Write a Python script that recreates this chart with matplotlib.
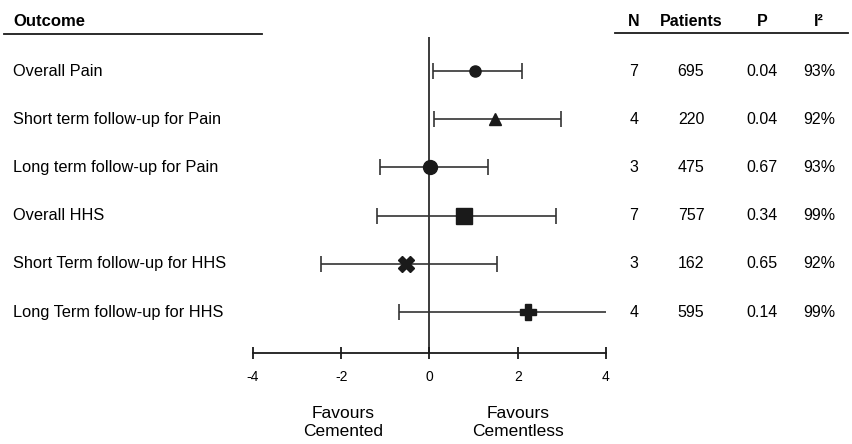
import matplotlib
matplotlib.use("Agg")
import matplotlib.pyplot as plt

plt.rcParams['font.family'] = ['Liberation Sans', 'DejaVu Sans']

outcomes = ["Overall Pain", "Short term follow-up for Pain", "Long term follow-up for Pain",
            "Overall HHS", "Short Term follow-up for HHS", "Long Term follow-up for HHS"]
estimate = [1.03, 1.48, 0.02, 0.78, -0.53, 2.23]
ci_low = [0.07, 0.10, -1.12, -1.19, -2.46, -0.69]
ci_high = [2.10, 2.98, 1.32, 2.87, 1.54, 4.30]
markers = ['o', '^', 'o', 's', 'X', 'P']
msizes = [8, 8, 10, 11, 12, 12]
n_studies = ["7", "4", "3", "7", "3", "4"]
patients = ["695", "220", "475", "757", "162", "595"]
p_values = ["0.04", "0.04", "0.67", "0.34", "0.65", "0.14"]
i2_values = ["93%", "92%", "93%", "99%", "92%", "99%"]
col_headers = ["N", "Patients", "P", "I²"]
xticks = [-4, -2, 0, 2, 4]

W, H = 853, 444
fig = plt.figure(figsize=(W / 100, H / 100), dpi=100)

x_left, x_right = 253, 606
y_top, y_bot = 37, 352.7
ax = fig.add_axes([x_left / W, 1 - y_bot / H, (x_right - x_left) / W, (y_bot - y_top) / H])

row_y0, row_dy = 71, 48.2
ax.set_xlim(-4, 4)
ax.set_ylim((y_bot - row_y0) / row_dy, (y_top - row_y0) / row_dy)

lc = '#1a1a1a'
for i in range(len(outcomes)):
    ax.errorbar(estimate[i], i,
                xerr=[[estimate[i] - ci_low[i]], [ci_high[i] - estimate[i]]],
                fmt=markers[i], color=lc, ecolor='#333333', elinewidth=1.2,
                capsize=6, capthick=1.2, markersize=msizes[i], zorder=3)

ax.axvline(0, color=lc, lw=1.2, zorder=2)

for s in ['left', 'right', 'top']:
    ax.spines[s].set_visible(False)
ax.spines['bottom'].set_linewidth(1.3)
ax.spines['bottom'].set_color(lc)
ax.set_yticks([])
ax.set_xticks(xticks)
ax.set_xticklabels([str(t) for t in xticks], fontsize=10)
ax.tick_params(axis='x', direction='inout', length=9, width=1.3, color=lc, pad=8)

# favours labels
fig.text(343 / W, 1 - 406 / H, "Favours\nCemented", ha='center', va='top', fontsize=12.5, linespacing=1.25)
fig.text(518 / W, 1 - 406 / H, "Favours\nCementless", ha='center', va='top', fontsize=12.5, linespacing=1.25)

# left labels
fig.text(13 / W, 1 - 22 / H, "Outcome", ha='left', va='center', fontsize=12, fontweight='bold')
fig.add_artist(plt.Line2D([4 / W, 262 / W], [1 - 34.5 / H, 1 - 34.5 / H], color=lc, lw=1.3))
for i, name in enumerate(outcomes):
    y = row_y0 + row_dy * i
    fig.text(13 / W, 1 - y / H, name, ha='left', va='center', fontsize=11.8)

# right table
col_x = [634, 691, 762, 819]
for cx, h in zip(col_x, col_headers):
    fig.text(cx / W, 1 - 22 / H, h, ha='center', va='center', fontsize=11.5, fontweight='bold')
fig.add_artist(plt.Line2D([615 / W, 848 / W], [1 - 33 / H, 1 - 33 / H], color=lc, lw=1.3))
for i in range(len(outcomes)):
    y = row_y0 + row_dy * i
    for cx, val in zip(col_x, [n_studies[i], patients[i], p_values[i], i2_values[i]]):
        fig.text(cx / W, 1 - y / H, val, ha='center', va='center', fontsize=11.5)

fig.savefig("out.png", dpi=100)
